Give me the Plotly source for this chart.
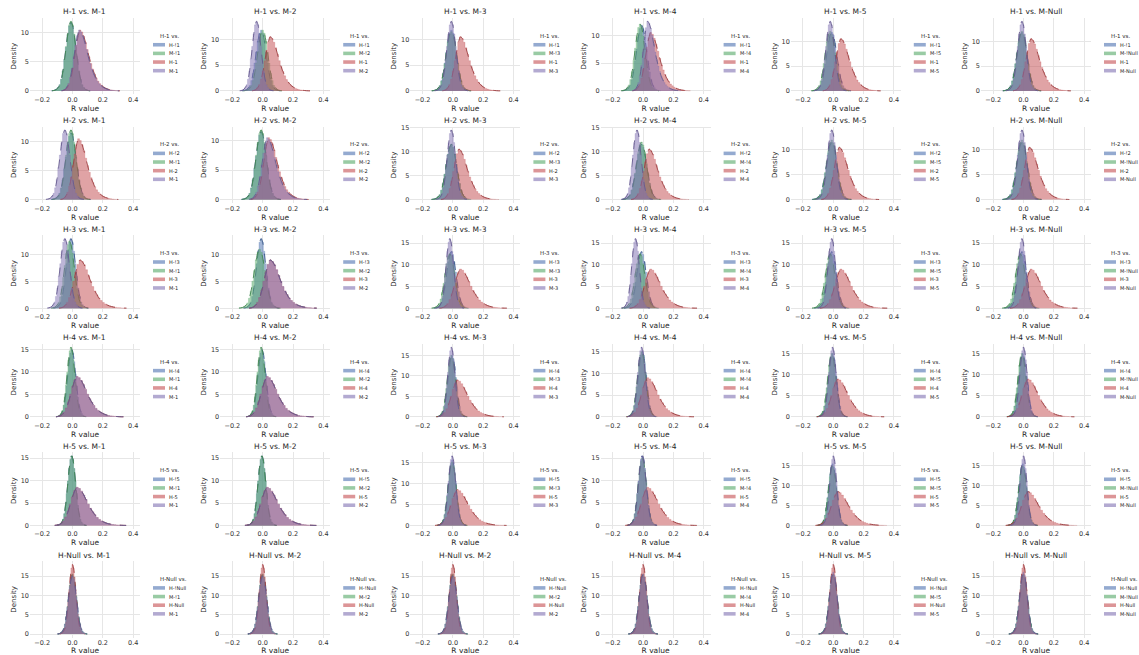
import plotly.graph_objects as go

W, H = 1139, 655

# ---------------- data ----------------
H_LABELS = ["1", "2", "3", "4", "5", "Null"]
M_LABEL_GRID = [
    ["1", "2", "3", "4", "5", "Null"],
    ["1", "2", "3", "4", "5", "Null"],
    ["1", "2", "3", "4", "5", "Null"],
    ["1", "2", "3", "4", "5", "Null"],
    ["1", "2", "3", "4", "5", "Null"],
    ["1", "2", "2", "4", "5", "Null"],
]

# red: H-i (one per row)
H_LOC = [0.05, 0.04, 0.05, 0.03, 0.03, 0.0]
H_PEAK = [10.5, 10.5, 9.0, 9.0, 8.5, 18.0]
H_SKEW = [1, 1, 1, 1, 1, 0]
# blue: H-!i (one per row)
NH_LOC = [-0.01, -0.01, -0.01, -0.005, -0.005, 0.0]
NH_PEAK = [11.8, 11.5, 13.0, 15.0, 15.5, 15.5]
# green: M-!j (per panel)
NM_LOC = [
    [-0.01, 0.0, -0.01, -0.02, -0.02, -0.01],
    [-0.01, -0.01, -0.01, -0.01, -0.01, -0.01],
    [-0.02, -0.02, -0.02, -0.02, -0.02, -0.02],
    [-0.01, -0.01, -0.01, -0.01, -0.01, -0.01],
    [-0.005, -0.005, -0.005, -0.005, -0.005, -0.005],
    [0.0, 0.0, 0.0, 0.0, 0.0, 0.0],
]
NM_PEAK = [
    [12.0, 11.8, 11.5, 12.0, 12.0, 12.0],
    [12.0, 11.8, 11.5, 12.0, 12.0, 12.0],
    [12.5, 11.0, 12.5, 12.5, 12.5, 12.5],
    [15.5, 15.5, 15.0, 15.0, 15.0, 15.0],
    [15.5, 15.5, 15.0, 15.0, 15.0, 15.0],
    [15.5, 15.5, 15.5, 15.5, 15.5, 15.5],
]
# purple: M-j (per panel)
M_LOC = [
    [0.045, -0.04, -0.01, 0.03, -0.02, -0.01],
    [-0.05, 0.03, -0.01, -0.04, -0.01, -0.01],
    [-0.05, 0.05, -0.02, -0.05, -0.01, -0.01],
    [0.03, 0.03, -0.01, -0.01, -0.005, 0.0],
    [0.03, 0.03, -0.005, -0.005, 0.0, 0.0],
    [0.0, 0.0, 0.0, 0.0, 0.0, 0.0],
]
M_PEAK = [
    [10.5, 13.5, 13.5, 12.5, 14.0, 14.0],
    [12.0, 10.5, 14.5, 14.5, 14.0, 14.0],
    [13.0, 9.0, 16.0, 16.0, 16.0, 16.0],
    [9.0, 9.0, 17.0, 16.0, 16.5, 16.5],
    [8.5, 8.5, 16.5, 15.5, 17.5, 17.5],
    [15.0, 15.0, 15.0, 15.5, 16.0, 16.0],
]
M_SKEW = [
    [1, 0, 0, 1, 0, 0],
    [0, 1, 0, 0, 0, 0],
    [0, 1, 0, 0, 0, 0],
    [1, 1, 0, 0, 0, 0],
    [1, 1, 0, 0, 0, 0],
    [0, 0, 0, 0, 0, 0],
]

# shape profiles (relative density vs offset in units of 1/peak)
SYM_T = [-1.5, -1.375, -1.25, -1.125, -1.0, -0.875, -0.75, -0.625, -0.5, -0.375, -0.25, -0.125,
         0.0, 0.125, 0.25, 0.375, 0.5, 0.625, 0.75, 0.875, 1.0, 1.125, 1.25, 1.375, 1.5]
SYM_P = [0.003, 0.006, 0.012, 0.025, 0.05, 0.09, 0.17, 0.29, 0.46, 0.64, 0.82, 0.95,
         1.0, 0.95, 0.82, 0.64, 0.46, 0.29, 0.17, 0.09, 0.05, 0.025, 0.012, 0.006, 0.003]
SKEW_T = [-1.25, -1.125, -1.0, -0.875, -0.75, -0.625, -0.5, -0.375, -0.25, -0.125, 0.0,
          0.125, 0.25, 0.375, 0.5, 0.625, 0.75, 0.875, 1.0, 1.125, 1.25, 1.375, 1.5,
          1.625, 1.75, 1.875, 2.0, 2.125, 2.25, 2.375, 2.5, 2.625, 2.75]
SKEW_P = [0.004, 0.01, 0.025, 0.06, 0.12, 0.22, 0.37, 0.56, 0.75, 0.91, 1.0,
          0.97, 0.9, 0.8, 0.68, 0.56, 0.45, 0.36, 0.28, 0.21, 0.16, 0.12, 0.09,
          0.065, 0.047, 0.034, 0.024, 0.017, 0.012, 0.008, 0.005, 0.003, 0.002]

X_TICKS = [-0.2, 0.0, 0.2, 0.4]
X_RANGE = [-0.28, 0.445]

COLORS = {"blue": (76, 114, 176), "green": (85, 168, 104), "red": (196, 78, 82), "purple": (129, 114, 178)}

# ---------------- layout geometry (px) ----------------
COL_PITCH, ROW_PITCH = 190.2, 109.3
PLOT_L, PLOT_R = 30, 140
PLOT_T, PLOT_B = 15, 92


def rgba(c, a):
    return "rgba(%d,%d,%d,%.2f)" % (c[0], c[1], c[2], a)


def dark(c, f=0.8):
    return "rgb(%d,%d,%d)" % (int(c[0] * f), int(c[1] * f), int(c[2] * f))


def curve(loc, peak, skew):
    ts, ps = (SKEW_T, SKEW_P) if skew else (SYM_T, SYM_P)
    w = 1.0 / peak
    return [loc + t * w for t in ts], [peak * p for p in ps]


fig = go.Figure()
layout = dict(
    width=W, height=H, margin=dict(l=0, r=0, t=0, b=0),
    paper_bgcolor="white", plot_bgcolor="white", showlegend=False,
    font=dict(family="DejaVu Sans", color="#262626"),
)
annotations = []
shapes = []

for r in range(6):
    for c in range(6):
        k = r * 6 + 1 + c
        xa = "x" if k == 1 else "x%d" % k
        ya = "y" if k == 1 else "y%d" % k
        hl = H_LABELS[r]
        ml = M_LABEL_GRID[r][c]
        series = [
            ("H-!" + hl, "blue", NH_LOC[r], NH_PEAK[r], 0),
            ("M-!" + ml, "green", NM_LOC[r][c], NM_PEAK[r][c], 0),
            ("H-" + hl, "red", H_LOC[r], H_PEAK[r], H_SKEW[r]),
            ("M-" + ml, "purple", M_LOC[r][c], M_PEAK[r][c], M_SKEW[r][c]),
        ]
        ymax = 0
        for name, col, loc, pk, sk in series:
            xs, ys = curve(loc, pk, sk)
            ymax = max(ymax, max(ys))
            base = COLORS[col]
            fig.add_trace(go.Scatter(
                x=xs, y=ys, xaxis=xa, yaxis=ya, mode="lines", line_shape="hvh",
                line=dict(width=0.4, color=rgba(base, 0.6)), fill="tozeroy",
                fillcolor=rgba(base, 0.52), name=name, hoverinfo="skip"))
            fig.add_trace(go.Scatter(
                x=xs, y=ys, xaxis=xa, yaxis=ya, mode="lines", line_shape="spline",
                line=dict(width=0.9, color=dark(base), dash="dash"), name=name + " kde",
                hoverinfo="skip"))

        x0 = PLOT_L + c * COL_PITCH
        x1 = PLOT_R + c * COL_PITCH
        y0 = PLOT_T + r * ROW_PITCH
        y1 = PLOT_B + r * ROW_PITCH
        axis_common = dict(showgrid=True, gridcolor="#e6e6e6", gridwidth=0.7, zeroline=False,
                           showline=False, ticks="", tickfont=dict(size=6.5, color="#333"))
        layout["xaxis" if k == 1 else "xaxis%d" % k] = dict(
            domain=[x0 / W, x1 / W], anchor=ya, range=X_RANGE, tickvals=X_TICKS,
            tickformat=".1f",
            title=dict(text="R value", font=dict(size=7.5, color="#262626"), standoff=1),
            **axis_common)
        layout["yaxis" if k == 1 else "yaxis%d" % k] = dict(
            domain=[1 - y1 / H, 1 - y0 / H], anchor=xa,
            range=[-0.05 * ymax, 1.05 * ymax], tick0=0, dtick=5, tickformat="d",
            title=dict(text="Density", font=dict(size=7, color="#262626"), standoff=3),
            **axis_common)
        # subplot title
        annotations.append(dict(
            text="H-%s vs. M-%s" % (hl, ml), xref="paper", yref="paper",
            x=(x0 + x1) / 2 / W, y=1 - (y0 - 6) / H, xanchor="center", yanchor="middle",
            showarrow=False, font=dict(size=7.5, color="#262626")))
        # legend
        lx = 153 + c * COL_PITCH
        ly = y0 + 18
        annotations.append(dict(
            text="H-%s vs." % hl, xref="paper", yref="paper", x=(lx + 5) / W, y=1 - ly / H,
            xanchor="left", yanchor="middle", showarrow=False,
            font=dict(size=5.5, color="#262626")))
        for i, (name, col, _, _, _) in enumerate(series):
            ey = ly + 9 + i * 8.7
            shapes.append(dict(
                type="rect", xref="paper", yref="paper", x0=lx / W, x1=(lx + 12) / W,
                y0=1 - (ey + 1.8) / H, y1=1 - (ey - 1.8) / H,
                fillcolor=rgba(COLORS[col], 0.6), line=dict(width=0)))
            annotations.append(dict(
                text=name, xref="paper", yref="paper", x=(lx + 14) / W, y=1 - ey / H,
                xanchor="left", yanchor="middle", showarrow=False,
                font=dict(size=5, color="#262626")))

layout["annotations"] = annotations
layout["shapes"] = shapes
fig.update_layout(**layout)
fig.write_html("out.html", config={"displayModeBar": False},
               post_script="document.body.style.margin='0';")
